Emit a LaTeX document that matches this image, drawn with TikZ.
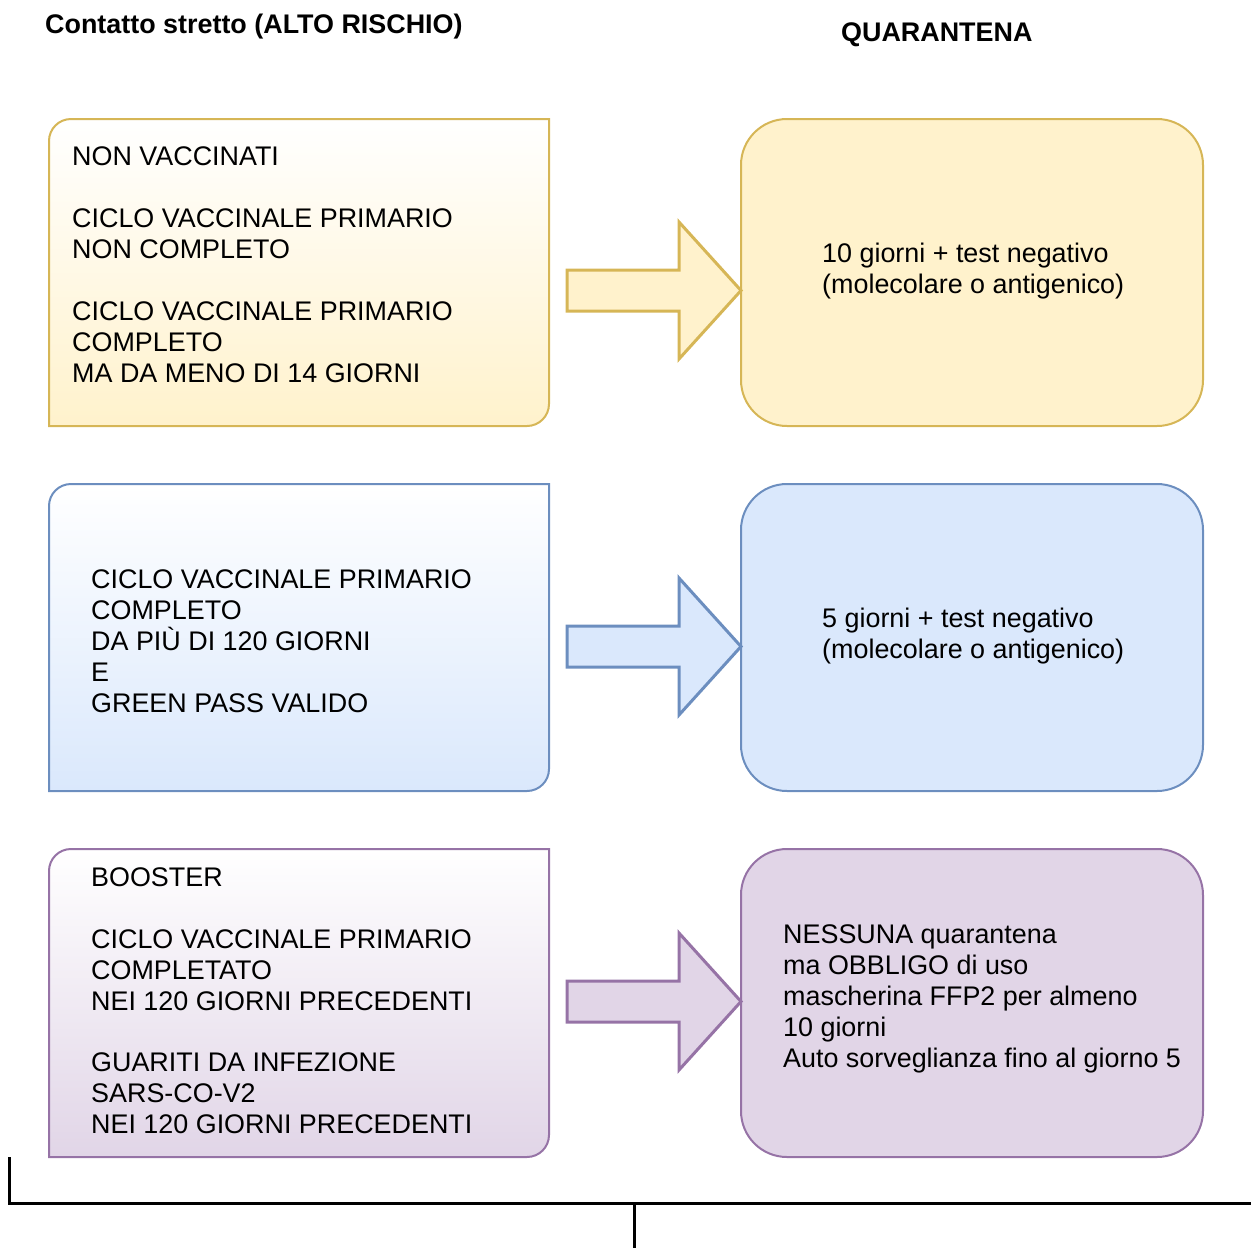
\documentclass[tikz,border=0pt]{standalone}
\usepackage{fontspec}
\setmainfont{Liberation Sans}
\definecolor{yfill}{HTML}{FFF2CC}
\definecolor{ydraw}{HTML}{D6B656}
\definecolor{bfill}{HTML}{DAE8FC}
\definecolor{bdraw}{HTML}{6C8EBF}
\definecolor{pfill}{HTML}{E1D5E7}
\definecolor{pdraw}{HTML}{9673A6}
\begin{document}
\begin{tikzpicture}[x=1pt,y=-1pt,
  txt/.style={inner sep=0pt,align=left,anchor=north west,font=\fontsize{26.9}{31}\selectfont},
  ttl/.style={inner sep=0pt,anchor=base west,font=\fontsize{26.9}{31}\selectfont\bfseries},
  rbox/.style={line width=2pt,rounded corners=46pt},
  arr/.style={line width=3pt,line join=miter}]
\useasboundingbox (0,0) rectangle (1251,1248);
% titles
\node[ttl] (t1) at (45,33) {Contatto stretto (ALTO RISCHIO)};
\node[ttl] (t2) at (841,41) {QUARANTENA};
% left boxes (rounded top-left & bottom-right)
\def\leftbox#1#2#3#4{%
  \path[draw=#3,line width=2pt,top color=white,bottom color=#4]
    (49,#1+22) arc[start angle=180,end angle=270,radius=22] -- (549,#1)
    -- (549,#2-22) arc[start angle=0,end angle=90,radius=22] -- (49,#2) -- cycle;}
\leftbox{119}{426}{ydraw}{yfill}
\leftbox{484}{791}{bdraw}{bfill}
\leftbox{849}{1157}{pdraw}{pfill}
% right boxes
\path[rbox,draw=ydraw,fill=yfill] (741,119) rectangle (1203,426);
\path[rbox,draw=bdraw,fill=bfill] (741,484) rectangle (1203,791);
\path[rbox,draw=pdraw,fill=pfill] (741,849) rectangle (1203,1157);
% arrows
\def\bigarrow#1#2#3{%
  \path[arr,draw=#2,fill=#3] (567,#1-20.5) -- (679,#1-20.5) -- (679,#1-68.5)
    -- (741,#1) -- (679,#1+68.5) -- (679,#1+20.5) -- (567,#1+20.5) -- cycle;}
\bigarrow{290.5}{ydraw}{yfill}
\bigarrow{646.5}{bdraw}{bfill}
\bigarrow{1001.5}{pdraw}{pfill}
% texts
\node[txt] (l1) at (72,146.5) {NON VACCINATI\\[31pt]CICLO VACCINALE PRIMARIO\\NON COMPLETO\\[31pt]CICLO VACCINALE PRIMARIO\\COMPLETO\\MA DA MENO DI 14 GIORNI};
\node[txt] (l2) at (91,570) {CICLO VACCINALE PRIMARIO\\COMPLETO\\DA PIÙ DI 120 GIORNI\\E\\GREEN PASS VALIDO};
\node[txt] (l3) at (91,867.7) {BOOSTER\\[31pt]CICLO VACCINALE PRIMARIO\\COMPLETATO\\NEI 120 GIORNI PRECEDENTI\\[30pt]GUARITI DA INFEZIONE\\SARS-CO-V2\\NEI 120 GIORNI PRECEDENTI};
\node[txt] (r1) at (822,242.7) {10 giorni + test negativo\\(molecolare o antigenico)};
\node[txt] (r2) at (822,608) {5 giorni + test negativo\\(molecolare o antigenico)};
\node[txt] (r3) at (783,925) {NESSUNA quarantena\\ma OBBLIGO di uso\\mascherina FFP2 per almeno\\10 giorni\\Auto sorveglianza fino al giorno 5};
% bottom bracket
\coordinate (b1) at (9,1157);
\coordinate (b2) at (9,1203);
\coordinate (b3) at (1251,1203);
\coordinate (b4) at (634,1203);
\coordinate (b5) at (634,1248);
\draw[line width=3pt] (b1) -- (b2) -- (b3);
\draw[line width=3pt] (b4) -- (b5);
\end{tikzpicture}
\end{document}
